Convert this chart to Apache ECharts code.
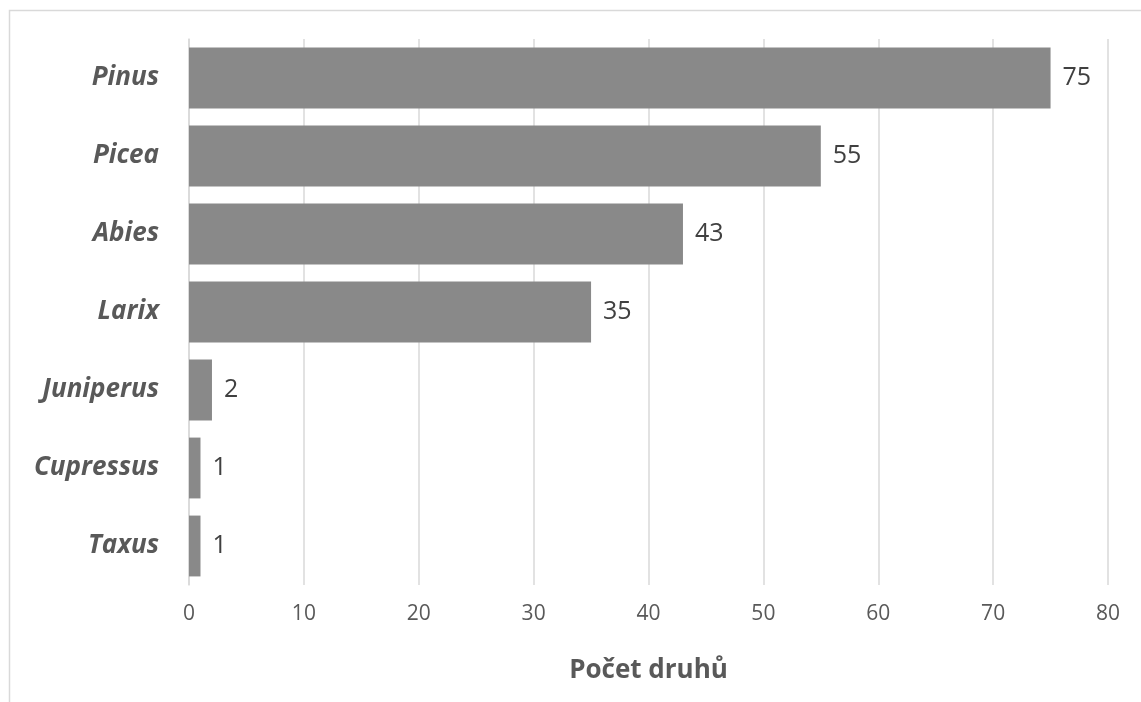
<!DOCTYPE html>
<html>
<head>
<meta charset="utf-8">
<style>
  html, body { margin: 0; padding: 0; background: #ffffff; }
  #chart { width: 1141px; height: 702px; }
</style>
<script src="https://cdn.jsdelivr.net/npm/echarts@6/dist/echarts.min.js"></script>
</head>
<body>
<div id="chart"></div>
<script>
// Genera jehličnanů a počet druhů
const genera = ['Pinus', 'Picea', 'Abies', 'Larix', 'Juniperus', 'Cupressus', 'Taxus'];
const speciesCount = [75, 55, 43, 35, 2, 1, 1];
const axisTicks = [0, 10, 20, 30, 40, 50, 60, 70, 80];
const axisTitle = 'Počet druhů';

const FONT = '"Open Sans", "Noto Sans", sans-serif';

const chart = echarts.init(document.getElementById('chart'), null, { renderer: 'canvas' });

chart.setOption({
  backgroundColor: '#ffffff',
  animation: false,
  graphic: [{
    type: 'rect',
    shape: { x: 9.5, y: 10.5, width: 1200, height: 800 },
    style: { fill: 'none', stroke: '#d9d9d9', lineWidth: 1.5 },
    silent: true,
    z: -1
  }],
  grid: { left: 189, right: 33, top: 39, bottom: 117 },
  xAxis: {
    type: 'value',
    min: axisTicks[0],
    max: axisTicks[axisTicks.length - 1],
    interval: axisTicks[1] - axisTicks[0],
    name: axisTitle,
    nameLocation: 'middle',
    nameGap: 73,
    nameTextStyle: { fontFamily: FONT, fontSize: 26, fontWeight: 'bold', color: '#595959' },
    axisLine: { show: false },
    axisTick: { show: false },
    axisLabel: { fontFamily: FONT, fontSize: 21, color: '#595959', margin: 19 },
    splitLine: { show: true, lineStyle: { color: '#d9d9d9', width: 1.5 } }
  },
  yAxis: {
    type: 'category',
    data: genera,
    inverse: true,
    axisLine: { show: true, lineStyle: { color: '#d9d9d9', width: 1.5 } },
    axisTick: { show: false },
    axisLabel: {
      fontFamily: FONT, fontSize: 26, fontWeight: 'bold', fontStyle: 'italic',
      color: '#595959', margin: 30
    }
  },
  series: [{
    type: 'bar',
    data: speciesCount,
    barCategoryGap: '22%',
    itemStyle: { color: '#898989' },
    label: {
      show: true,
      position: 'right',
      distance: 12,
      fontFamily: FONT,
      fontSize: 25,
      color: '#404040'
    }
  }]
});
</script>
</body>
</html>
